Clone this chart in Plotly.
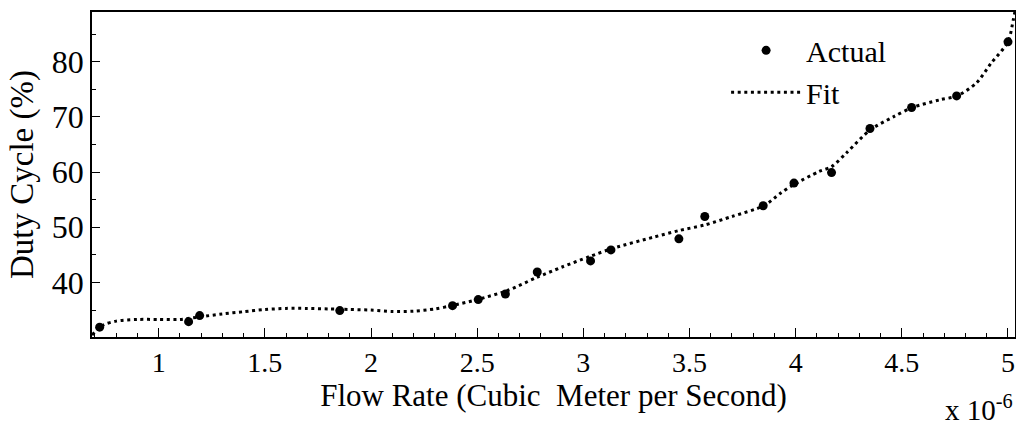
import plotly.graph_objects as go

# Measured data (flow rate in units of 1e-6 m^3/s, duty cycle in %)
actual_x = [0.722, 1.141, 1.193, 1.853, 2.384, 2.505, 2.633, 2.783, 3.034, 3.13,
            3.45, 3.572, 3.847, 3.992, 4.169, 4.35, 4.546, 4.758, 5.0]
actual_y = [31.9, 32.9, 34.0, 34.9, 35.8, 36.9, 37.9, 41.9, 43.9, 45.9,
            47.9, 51.95, 53.9, 58.0, 59.9, 67.9, 71.7, 73.8, 83.6]

# Fit curve
fit_x = [0.686, 0.74, 0.80, 0.90, 1.0, 1.1, 1.2, 1.3, 1.4, 1.5, 1.6, 1.7, 1.8, 1.9,
         2.0, 2.1, 2.2, 2.3, 2.38, 2.5, 2.64, 2.78, 2.9, 3.03, 3.14, 3.33, 3.45,
         3.57, 3.70, 3.85, 3.93, 3.99, 4.11, 4.17, 4.24, 4.35, 4.46, 4.55, 4.68,
         4.76, 4.85, 4.92, 5.0, 5.025, 5.035]
fit_y = [30.5, 32.3, 33.0, 33.3, 33.3, 33.3, 33.8, 34.3, 34.7, 35.1, 35.3, 35.3, 35.2, 35.1,
         35.0, 34.75, 34.8, 35.2, 35.8, 36.9, 38.5, 40.9, 42.8, 44.7, 46.2, 48.2, 49.4,
         50.4, 51.95, 53.9, 56.2, 57.7, 60.1, 61.0, 63.5, 67.6, 70.0, 71.7, 73.1,
         73.8, 76.1, 79.7, 83.6, 87.6, 89.5]

x_range = [0.686, 5.033]
y_range = [30.12, 89.0]

FONT = "Liberation Serif, Times New Roman, serif"

fig = go.Figure()
fig.add_trace(go.Scatter(
    x=actual_x, y=actual_y, mode="markers", name="Actual",
    marker=dict(color="black", size=9, line=dict(width=0)),
))
fig.add_trace(go.Scatter(
    x=fit_x, y=fit_y, mode="lines", name="Fit",
    line=dict(color="black", width=3, dash="3px,3.6px", shape="spline", smoothing=0.8),
))

axis_common = dict(
    showline=True, linecolor="black", linewidth=1.5, mirror=True,
    ticks="inside", tickcolor="black", tickwidth=1,
    showgrid=False, zeroline=False, automargin=False,
    ticklabeloverflow="allow",
)

fig.update_xaxes(
    range=x_range, dtick=0.5, tick0=0, ticklen=9,
    minor=dict(dtick=0.1, ticks="inside", ticklen=4, tickcolor="black", tickwidth=1),
    tickfont=dict(family=FONT, size=28, color="black"),
    title=dict(text="Flow Rate (Cubic  Meter per Second)",
               font=dict(family=FONT, size=31, color="black"), standoff=5),
    **axis_common,
)
fig.update_yaxes(
    range=y_range, dtick=10, tick0=0, ticklen=8,
    minor=dict(dtick=5, ticks="inside", ticklen=4, tickcolor="black", tickwidth=1),
    tickfont=dict(family=FONT, size=32, color="black"),
    title=dict(text="Duty Cycle (%)",
               font=dict(family=FONT, size=33, color="black"), standoff=8),
    **axis_common,
)

fig.add_annotation(
    text="x 10<sup>-6</sup>", xref="paper", yref="paper",
    x=1.0, y=-0.158, xanchor="right", yanchor="top", showarrow=False,
    font=dict(family=FONT, size=29, color="black"),
)

fig.update_layout(
    width=1016, height=428,
    margin=dict(l=92, r=1, t=12, b=91, autoexpand=False),
    paper_bgcolor="white", plot_bgcolor="white",
    showlegend=True,
    legend=dict(x=0.687, y=0.962, xanchor="left", yanchor="top",
                bgcolor="rgba(0,0,0,0)", borderwidth=0, itemwidth=70,
                tracegroupgap=0,
                font=dict(family=FONT, size=30, color="black")),
)

fig.write_html("out.html", config={"displayModeBar": False},
               post_script="document.body.style.margin='0';")
